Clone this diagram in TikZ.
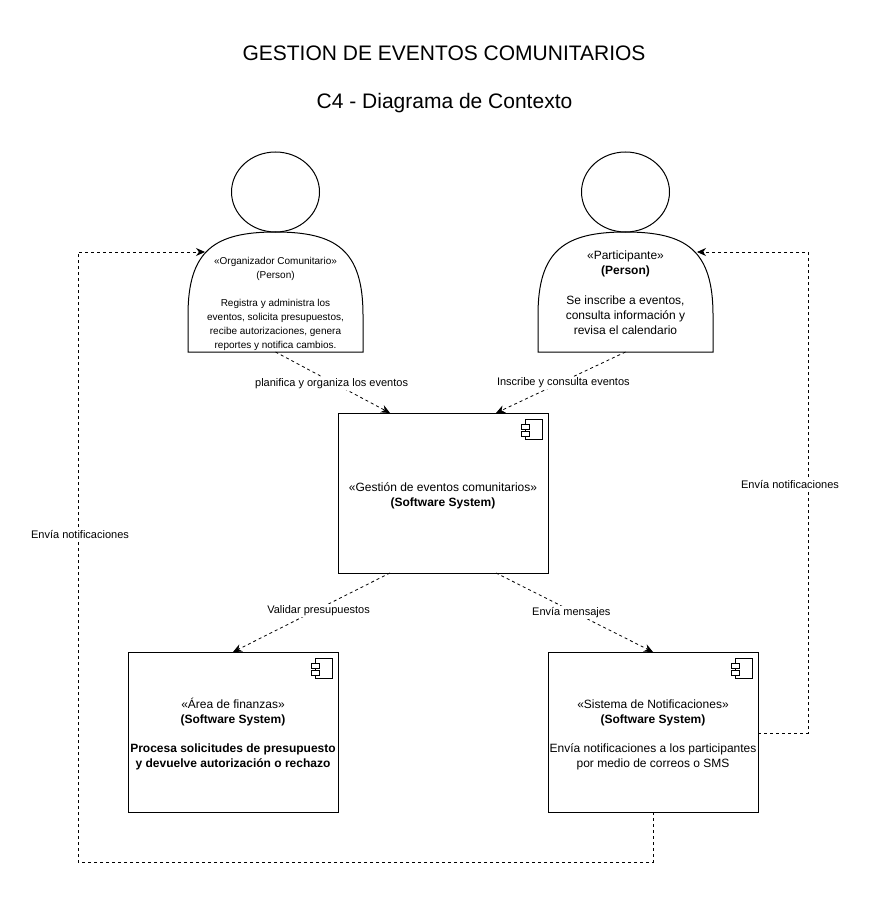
\documentclass[tikz,border=0pt]{standalone}
\usepackage{fontspec}
\setmainfont{Liberation Sans}
\usetikzlibrary{arrows.meta,calc}
\tikzset{
  box/.style={draw, line width=1pt, outer sep=0pt, minimum width=210pt, minimum height=160pt, inner sep=0pt, align=center, font=\fontsize{12}{15}\selectfont},
  personbody/.style={minimum width=175pt, minimum height=120pt, inner sep=0pt, outer sep=0pt},
  persontext/.style={align=center, inner sep=0pt},
  lbl/.style={fill=white, inner sep=1pt, yshift=-1.5pt, font=\fontsize{11}{13}\selectfont},
  rel/.style={line width=0.8pt, dash pattern=on 3pt off 3pt, -{Stealth[length=9pt,width=8pt]}}
}
% push the text of a box down a little
\newcommand{\topgap}{\rule{0pt}{13.5pt}}
% outline of a person below the named body node
\newcommand{\personshape}[1]{
  \draw[line width=1pt] (#1.south west) -- (#1.south east) -- ++(0,-37)
    .. controls +(0,-65) and +(60.5,0) .. ++(-87.5,-83)
    .. controls +(-60.5,0) and +(0,-65) .. ++(-87.5,83) -- cycle;
  \draw[line width=1pt] ($(#1.north)+(0,-40)$) ellipse (44 and 40);
}
% component icon in the corner of a box
\newcommand{\compicon}[1]{
  \draw[line width=1pt] ($(#1.north east)+(-23,6)$) rectangle ($(#1.north east)+(-6,26)$);
  \draw[line width=1pt, fill=white] ($(#1.north east)+(-27,11)$) rectangle ($(#1.north east)+(-19,16)$);
  \draw[line width=1pt, fill=white] ($(#1.north east)+(-27,18)$) rectangle ($(#1.north east)+(-19,23)$);
}
\begin{document}
\begin{tikzpicture}[x=1pt, y=-1pt]
  \useasboundingbox (0,0) rectangle (868,901);
  % titles
  \node[font=\fontsize{21}{24}\selectfont] (title) at (444,53) {GESTION DE EVENTOS COMUNITARIOS};
  \node[font=\fontsize{21}{24}\selectfont] (subtitle) at (444.5,103) {C4 - Diagrama de Contexto};
  % persons
  \node[personbody] (orgBody) at (275.5,292) {};
  \node[personbody] (partBody) at (625.5,292) {};
  \personshape{orgBody}
  \personshape{partBody}
  \node[persontext, font=\fontsize{10}{14}\selectfont] (orgText) at (275.5,303.5)
    {«Organizador Comunitario»\\(Person)\\[14pt]Registra y administra los\\eventos, solicita presupuestos,\\recibe autorizaciones, genera\\reportes y notifica cambios.};
  \node[persontext, font=\fontsize{12}{15}\selectfont] (partText) at (625.5,292.5)
    {«Participante»\\\textbf{(Person)}\\[15pt]Se inscribe a eventos,\\consulta información y\\revisa el calendario};
  % systems
  \node[box] (gest) at (443,493) {\topgap«Gestión de eventos comunitarios»\\\textbf{(Software System)}};
  \node[box] (fin) at (233,732) {\topgap«Área de finanzas»\\\textbf{(Software System)}\\[14pt]\textbf{Procesa solicitudes de presupuesto}\\\textbf{y devuelve autorización o rechazo}};
  \node[box] (notif) at (653,732) {\topgap«Sistema de Notificaciones»\\\textbf{(Software System)}\\[14pt]Envía notificaciones a los participantes\\por medio de correos o SMS};
  \foreach \n in {gest,fin,notif} {
      \compicon{\n}
  }
  % free ends
  \coordinate (gestInL) at ($(gest.north)+(-53,0)$);
  \coordinate (gestInR) at ($(gest.north)+(53,0)$);
  \coordinate (gestOutL) at ($(gest.south)+(-53,0)$);
  \coordinate (gestOutR) at ($(gest.south)+(53,0)$);
  \coordinate (orgIn) at (205,252);
  \coordinate (partIn) at (697,252);
  % connectors
  \draw[rel] (orgBody.south) -- node[lbl, pos=0.49] (l1) {planifica y organiza los eventos} (gestInL);
  \draw[rel] (partBody.south) -- node[lbl, pos=0.48] (l2) {Inscribe y consulta eventos} (gestInR);
  \draw[rel] (gestOutL) -- node[lbl, pos=0.455] (l3) {Validar presupuestos} (fin.north);
  \draw[rel] (gestOutR) -- node[lbl, pos=0.48] (l4) {Envía mensajes} (notif.north);
  \draw[rel] (notif.east) ++(0,1) -- ++(50,0) -- (808,252) -- (partIn);
  \draw[rel] (notif.south) -- (653,862) -- (78,862) -- (78,252) -- (orgIn);
  \node[lbl] (l5) at (790,482.5) {Envía notificaciones};
  \node[lbl] (l6) at (80,532.5) {Envía notificaciones};
\end{tikzpicture}
\end{document}
